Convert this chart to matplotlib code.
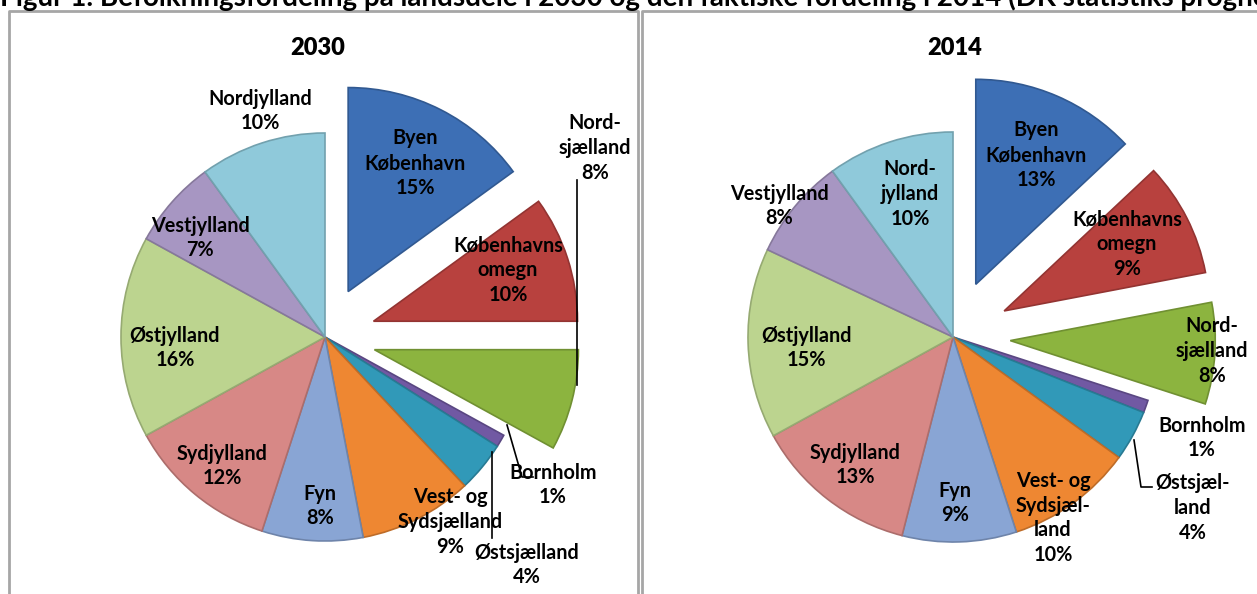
import matplotlib
matplotlib.use('Agg')
import matplotlib.pyplot as plt
import matplotlib.colors as mcolors

# data (share of population per region, %)
regions = ['Byen København', 'Københavns omegn', 'Nordsjælland', 'Bornholm', 'Østsjælland',
           'Vest- og Sydsjælland', 'Fyn', 'Sydjylland', 'Østjylland', 'Vestjylland', 'Nordjylland']
share_2030 = [15, 10, 8, 1, 4, 9, 8, 12, 16, 7, 10]
share_2014 = [13, 9, 8, 1, 4, 10, 9, 13, 15, 8, 10]
exploded = ['Byen København', 'Københavns omegn', 'Nordsjælland']

labels_2030 = ['Byen\nKøbenhavn', 'Københavns\nomegn', 'Nord-\nsjælland', 'Bornholm', 'Østsjælland',
               'Vest- og\nSydsjælland', 'Fyn', 'Sydjylland', 'Østjylland', 'Vestjylland', 'Nordjylland']
labels_2014 = ['Byen\nKøbenhavn', 'Københavns\nomegn', 'Nord-\nsjælland', 'Bornholm', 'Østsjæl-\nland',
               'Vest- og\nSydsjæl-\nland', 'Fyn', 'Sydjylland', 'Østjylland', 'Vestjylland', 'Nord-\njylland']

colors = ['#3D6FB5', '#B8413E', '#8CB43F', '#7159A3', '#3199B8',
          '#EE8732', '#89A5D4', '#D78886', '#BCD48F', '#A796C2', '#8FC9DA']

plt.rcParams['font.family'] = ['Lato', 'DejaVu Sans']
plt.rcParams['font.weight'] = 'bold'

W, H = 1257, 594
fig = plt.figure(figsize=(W / 100, H / 100), dpi=100)
ax = fig.add_axes([0, 0, 1, 1])


def py(y):
    # convert top-down pixel row to data y
    return H - y


def darker(c, f=0.75):
    r, g, b = mcolors.to_rgb(c)
    return (r * f, g * f, b * f)


def draw_pie(values, center, radius, expl_frac, labels, label_pos, leaders):
    explode = [expl_frac * radius if r in exploded else 0 for r in regions]
    wedges, _ = ax.pie(values, colors=colors, startangle=90, counterclock=False,
                       center=(center[0], py(center[1])), radius=radius, explode=explode,
                       wedgeprops=dict(linewidth=1.2), frame=False)
    for w, c in zip(wedges, colors):
        w.set_edgecolor(darker(c, 0.8))
    for lab, v, (x, y) in zip(labels, values, label_pos):
        ax.text(x, py(y), f'{lab}\n{v}%', ha='center', va='center', fontsize=14.3,
                fontweight='bold', linespacing=1.3, color='black')
    for pts in leaders:
        ax.plot([p[0] for p in pts], [py(p[1]) for p in pts], color='black', lw=1.2)


pos_2030 = [(415, 163), (508, 270), (595, 148), (553, 485), (527, 565), (450, 522),
            (320, 506), (222, 466), (175, 348), (200, 238), (260, 111)]
lead_2030 = [[(577, 180), (577, 385)],
             [(507, 425), (522, 477), (533, 477)],
             [(492, 452), (492, 538)]]
pos_2014 = [(1036, 155), (1127, 244), (1212, 351), (1202, 438), (1193, 508), (1053, 518),
            (955, 503), (855, 465), (806, 348), (779, 206), (910, 194)]
lead_2014 = [[(1134, 440), (1141, 487), (1152, 487)]]

draw_pie(share_2030, (325, 337), 204, 0.25, labels_2030, pos_2030, lead_2030)
draw_pie(share_2014, (953, 337), 205, 0.28, labels_2014, pos_2014, lead_2014)

ax.text(318, py(48), '2030', ha='center', va='center', fontsize=17, fontweight='heavy')
ax.text(955, py(48), '2014', ha='center', va='center', fontsize=17, fontweight='heavy')

# panel frames
frame = dict(color='#A6A6A6', lw=2)
ax.plot([9, 9, 638, 638], [py(H + 5), py(11), py(11), py(H + 5)], **frame)
ax.plot([642, 642, W + 5], [py(H + 5), py(11), py(11)], **frame)

# figure caption, cut off by the top edge as in the source
ax.text(0, py(6), 'Figur 1. Befolkningsfordeling på landsdele i 2030 og den faktiske fordeling '
        'i 2014 (DK statistiks prognose)', ha='left', va='baseline', fontsize=20, fontweight='bold')

ax.set_xlim(0, W)
ax.set_ylim(0, H)
ax.set_aspect('equal')
ax.axis('off')

fig.savefig('out.png', dpi=100)
